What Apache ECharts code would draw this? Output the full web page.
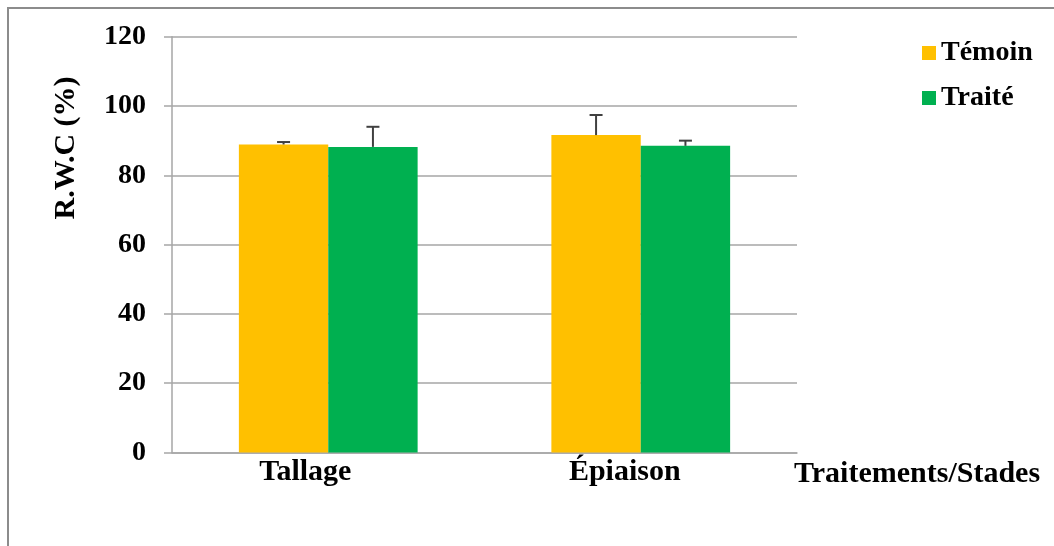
<!DOCTYPE html>
<html>
<head>
<meta charset="utf-8">
<script src="https://cdn.jsdelivr.net/npm/echarts@6/dist/echarts.min.js"></script>
<style>html,body{margin:0;padding:0;background:#fff}#c{width:1054px;height:546px}</style>
</head>
<body>
<div id="c"></div>
<script>
const categories = ['Tallage', 'Épiaison'];
const seriesNames = ['Témoin', 'Traité'];
const temoin = [88.9, 91.6];
const traite = [88.2, 88.5];
const temoinErr = [0.7, 5.8];
const traiteErr = [5.8, 1.5];
const yTicks = [0, 20, 40, 60, 80, 100, 120];
const yTitle = 'R.W.C (%)';
const xTitle = 'Traitements/Stades';

const FONT = '"Liberation Serif", "Times New Roman", serif';
const colors = ['#FFC000', '#00B050'];
const BAR_FRAC = 0.286;

function errSeries(vals, errs, side) {
  return {
    type: 'custom',
    silent: true,
    z: 10,
    data: vals.map((v, i) => [i, v, v + errs[i]]),
    renderItem: function (params, api) {
      const band = api.size([1, 0])[0];
      const off = side * band * BAR_FRAC / 2;
      const p0 = api.coord([api.value(0), api.value(1)]);
      const p1 = api.coord([api.value(0), api.value(2)]);
      const x = p0[0] + off;
      const cap = 6.5;
      const st = { stroke: '#404040', lineWidth: 2 };
      return {
        type: 'group',
        children: [
          { type: 'line', shape: { x1: x, y1: p0[1], x2: x, y2: p1[1] }, style: st },
          { type: 'line', shape: { x1: x - cap, y1: p1[1], x2: x + cap, y2: p1[1] }, style: st }
        ]
      };
    }
  };
}

const labelStyle = { fontFamily: FONT, fontWeight: 'bold', fontSize: 30, color: '#000' };

const chart = echarts.init(document.getElementById('c'));
chart.setOption({
  animation: false,
  backgroundColor: '#fff',
  grid: { left: 172, right: 257, top: 36.7, bottom: 93.5 },
  legend: {
    orient: 'vertical',
    left: 917,
    top: 34,
    itemWidth: 14,
    itemHeight: 14,
    itemGap: 17,
    icon: 'rect',
    data: seriesNames,
    textStyle: { fontFamily: FONT, fontWeight: 'bold', fontSize: 28, color: '#000', padding: [0, 0, 0, 0] }
  },
  xAxis: {
    type: 'category',
    data: categories,
    axisLine: { lineStyle: { color: '#A6A6A6', width: 1.5 } },
    axisTick: { show: false },
    axisLabel: {
      margin: 5,
      formatter: (v, i) => (i === 0 ? '{a|' : '{b|') + v + '}',
      rich: {
        a: Object.assign({ padding: [0, 46, 0, 0] }, labelStyle),
        b: Object.assign({ padding: [0, 32, 0, 0] }, labelStyle)
      }
    }
  },
  yAxis: {
    type: 'value',
    min: 0, max: 120, interval: 20,
    axisLine: { show: true, lineStyle: { color: '#A6A6A6', width: 1.5 } },
    axisTick: { show: true, length: 8, lineStyle: { color: '#A6A6A6', width: 1.5 } },
    splitLine: { lineStyle: { color: '#A6A6A6', width: 1.5 } },
    axisLabel: {
      fontFamily: FONT, fontWeight: 'bold', fontSize: 28, color: '#000', margin: 26,
      formatter: v => yTicks.includes(v) ? String(v) : ''
    }
  },
  graphic: [
    { type: 'rect', shape: { x: 8, y: 8, width: 1200, height: 700 }, style: { fill: 'none', stroke: '#8C8C8C', lineWidth: 2 }, silent: true },
    { type: 'text', x: 66, y: 148, rotation: Math.PI / 2,
      style: { text: yTitle, fontFamily: FONT, fontWeight: 'bold', fontSize: 30, fill: '#000', textAlign: 'center', textVerticalAlign: 'middle' } },
    { type: 'text', x: 794, y: 474,
      style: { text: xTitle, fontFamily: FONT, fontWeight: 'bold', fontSize: 30, fill: '#000', textAlign: 'left', textVerticalAlign: 'middle' } }
  ],
  series: [
    { name: seriesNames[0], type: 'bar', data: temoin, barWidth: (BAR_FRAC * 100) + '%', barGap: '0%', itemStyle: { color: colors[0] } },
    { name: seriesNames[1], type: 'bar', data: traite, barWidth: (BAR_FRAC * 100) + '%', barGap: '0%', itemStyle: { color: colors[1] } },
    errSeries(temoin, temoinErr, -1),
    errSeries(traite, traiteErr, 1)
  ]
});
</script>
</body>
</html>
